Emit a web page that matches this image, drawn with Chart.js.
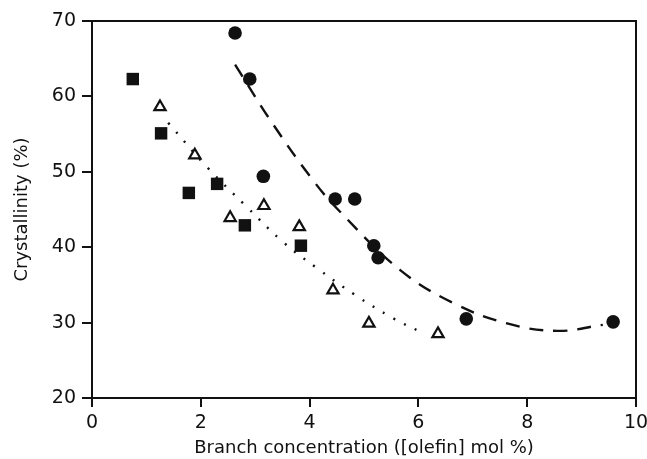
<!DOCTYPE html>
<html>
<head>
<meta charset="utf-8">
<script src="https://cdn.jsdelivr.net/npm/chart.js@4.4.1/dist/chart.umd.min.js"></script>
<style>
  html, body { margin: 0; padding: 0; background: #fff; }
  #wrap { width: 647px; height: 459px; }
</style>
</head>
<body>
<div id="wrap"><canvas id="cryst"></canvas></div>
<script>
// Crystallinity vs branch concentration

const circleX = [2.63, 2.90, 3.15, 4.47, 4.83, 5.18, 5.26, 6.88, 9.58];
const circleY = [68.4, 62.3, 49.4, 46.4, 46.4, 40.2, 38.6, 30.5, 30.1];

const squareX = [0.75, 1.27, 1.78, 2.30, 2.81, 3.84];
const squareY = [62.3, 55.1, 47.2, 48.4, 42.9, 40.2];

const triangleX = [1.25, 1.89, 2.54, 3.16, 3.81, 4.43, 5.09, 6.36];
const triangleY = [58.6, 52.2, 43.9, 45.5, 42.7, 34.3, 29.9, 28.5];

// hand-drawn trend lines
const dashFitX = [2.63, 3.31, 4.06, 4.56, 5.66, 6.64, 7.63, 8.55, 9.39];
const dashFitY = [64.2, 56.5, 48.9, 44.7, 37.0, 32.6, 29.9, 28.9, 29.7];

const dotFitX = [1.40, 2.13, 2.81, 3.51, 4.14, 4.83, 5.53, 6.03];
const dotFitY = [56.5, 50.5, 45.6, 40.7, 37.2, 33.7, 30.6, 28.8];

const xTicks = [0, 2, 4, 6, 8, 10];
const yTicks = [20, 30, 40, 50, 60, 70];

function pts(xs, ys) {
  return xs.map((x, i) => ({ x: x, y: ys[i] }));
}

const INK = '#111';
const FONT = 'DejaVu Sans';

// box around the plot area
const frame = {
  id: 'frame',
  afterDatasetsDraw(chart) {
    const a = chart.chartArea, ctx = chart.ctx;
    ctx.save();
    ctx.strokeStyle = INK;
    ctx.lineWidth = 2;
    ctx.strokeRect(a.left, a.top, a.right - a.left, a.bottom - a.top);
    ctx.restore();
  }
};

new Chart(document.getElementById('cryst'), {
  type: 'scatter',
  data: {
    datasets: [
      {
        label: 'dash fit',
        data: pts(dashFitX, dashFitY),
        showLine: true,
        tension: 0.4,
        borderColor: INK,
        borderWidth: 2.4,
        borderDash: [14, 10],
        pointRadius: 0
      },
      {
        label: 'dot fit',
        data: pts(dotFitX, dotFitY),
        showLine: true,
        tension: 0.4,
        borderColor: INK,
        borderWidth: 2.4,
        borderDash: [2, 10],
        pointRadius: 0
      },
      {
        label: 'circles',
        data: pts(circleX, circleY),
        pointStyle: 'circle',
        pointRadius: 6.8,
        backgroundColor: INK,
        borderColor: INK,
        borderWidth: 0
      },
      {
        label: 'squares',
        data: pts(squareX, squareY),
        pointStyle: 'rect',
        pointRadius: 8.8,
        backgroundColor: INK,
        borderColor: INK,
        borderWidth: 0
      },
      {
        label: 'triangles',
        data: pts(triangleX, triangleY),
        pointStyle: 'triangle',
        pointRadius: 6.5,
        backgroundColor: '#fff',
        borderColor: INK,
        borderWidth: 2.2
      }
    ]
  },
  options: {
    responsive: true,
    maintainAspectRatio: false,
    animation: false,
    layout: { padding: { top: 21, right: 11, left: 0, bottom: 0 } },
    plugins: {
      legend: { display: false },
      tooltip: { enabled: false }
    },
    scales: {
      x: {
        type: 'linear',
        min: 0,
        max: 10,
        afterBuildTicks(scale) { scale.ticks = xTicks.map(v => ({ value: v })); },
        afterFit(scale) {
          scale.height = 61;
          scale.paddingRight = 0;
          scale.paddingLeft = 0;
        },
        ticks: { color: INK, font: { family: FONT, size: 19 }, padding: 5, maxRotation: 0 },
        grid: { drawOnChartArea: false, drawTicks: true, tickLength: 9, color: INK, lineWidth: 2 },
        border: { display: true, color: INK, width: 2 },
        title: {
          display: true,
          text: 'Branch concentration ([olefin] mol %)',
          color: INK,
          font: { family: FONT, size: 18 },
          padding: { top: 0, bottom: 0 }
        }
      },
      y: {
        type: 'linear',
        min: 20,
        max: 70,
        afterBuildTicks(scale) { scale.ticks = yTicks.map(v => ({ value: v })); },
        afterFit(scale) {
          scale.width = 92;
          scale.paddingTop = 0;
          scale.paddingBottom = 0;
        },
        ticks: { color: INK, font: { family: FONT, size: 19 }, padding: 6 },
        grid: { drawOnChartArea: false, drawTicks: true, tickLength: 10, color: INK, lineWidth: 2 },
        border: { display: true, color: INK, width: 2 },
        title: {
          display: true,
          text: 'Crystallinity (%)',
          color: INK,
          font: { family: FONT, size: 18 },
          padding: { top: 12, bottom: 0 }
        }
      }
    }
  },
  plugins: [frame]
});
</script>
</body>
</html>
